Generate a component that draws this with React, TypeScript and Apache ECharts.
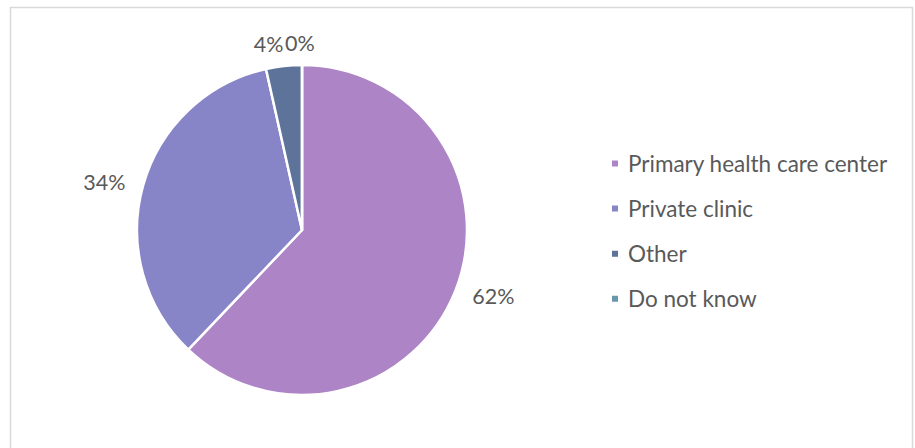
import React, { useEffect, useRef } from "react";
import * as echarts from "echarts";

const categories = ["Primary health care center", "Private clinic", "Other", "Do not know"];
const values = [62.1, 34.4, 3.5, 0];
const colors = ["#AD84C6", "#8784C7", "#5D739A", "#6997AF"];

export default function App() {
  const ref = useRef<HTMLDivElement>(null);
  useEffect(() => {
    if (!ref.current) return;
    const chart = echarts.init(ref.current, undefined, { renderer: "svg" });
    chart.setOption({
      animation: false,
      backgroundColor: "#ffffff",
      color: colors,
      textStyle: { fontFamily: "Lato" },
      graphic: [
        {
          type: "rect",
          shape: { x: 10.5, y: 7.5, width: 902, height: 470 },
          style: { fill: "none", stroke: "#D9D9D9", lineWidth: 1.5 },
          silent: true,
        },
      ],
      legend: {
        orient: "vertical",
        left: 605,
        top: 147,
        icon: "rect",
        itemWidth: 8,
        itemHeight: 8,
        itemGap: 22.1,
        textStyle: {
          fontFamily: "Lato",
          fontSize: 22.5,
          color: "#595959",
          lineHeight: 22.5,
          padding: [0, 0, 0, 4],
        },
        data: categories,
      },
      series: [
        {
          type: "pie",
          center: [302, 230],
          radius: 165,
          startAngle: 90,
          clockwise: true,
          avoidLabelOverlap: false,
          stillShowZeroSum: true,
          minShowLabelAngle: 0,
          itemStyle: { borderColor: "#ffffff", borderWidth: 2.5 },
          label: {
            show: true,
            position: "outside",
            fontFamily: "Lato",
            fontSize: 21.5,
            color: "#595959",
            formatter: (p: any) => Math.round(p.percent) + "%",
          },
          labelLine: { show: false, length: 13, length2: 0 },
          labelLayout: (p: any) =>
            p.dataIndex === 3
              ? { dx: -22, dy: -9 }
              : p.dataIndex === 2
              ? { dx: 6, dy: -9 }
              : {},
          emphasis: { disabled: true },
          data: categories.map((name, i) => ({ name, value: values[i] })),
        },
      ],
    });
    return () => chart.dispose();
  }, []);
  return (
    <div
      ref={ref}
      style={{ position: "fixed", left: 0, top: 0, width: 915, height: 448 }}
    />
  );
}
